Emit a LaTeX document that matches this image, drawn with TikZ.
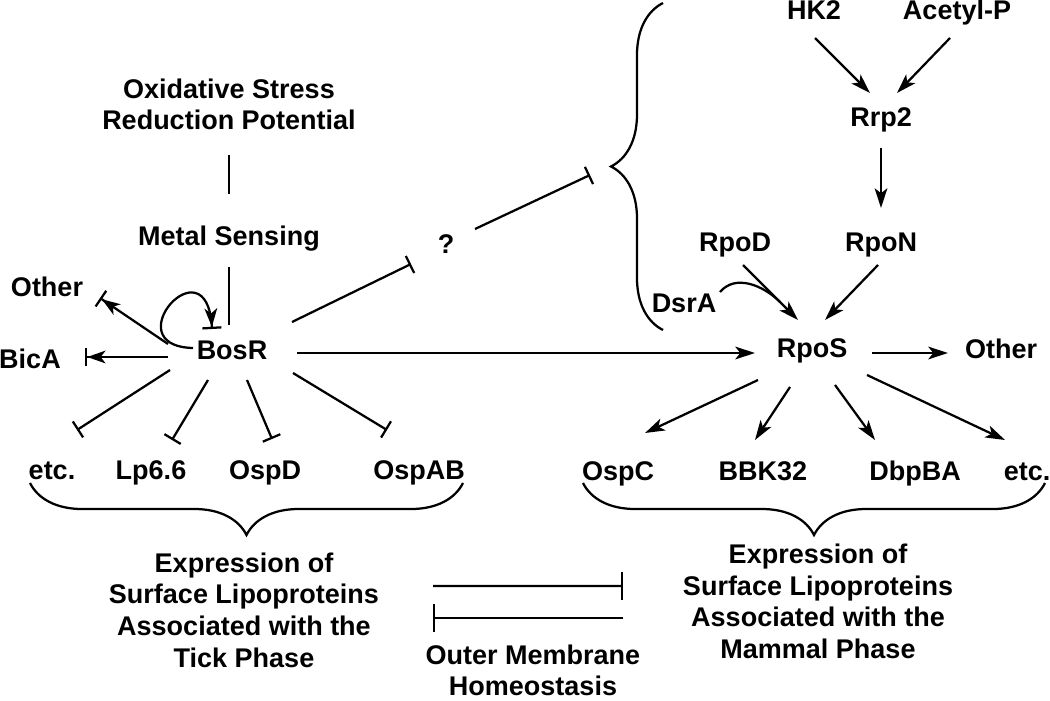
\documentclass[tikz,border=0pt]{standalone}
\usepackage{fontspec}
\setmainfont{Liberation Sans}
\usetikzlibrary{arrows.meta,calc,decorations.pathreplacing}
\tikzset{gene/.style={font=\bfseries\fontsize{19.2}{22.5}\selectfont,inner sep=0pt,anchor=base},
  block/.style={font=\bfseries\fontsize{19.2}{22.5}\selectfont,align=center,inner sep=0pt},
  act/.style={-{Stealth[length=14pt,width=9pt,inset=3.5pt]}},
  inh/.style={-{Bar[width=13.5pt]}},
  inhbig/.style={-{Bar[width=20pt]}},
  actinh/.style={-{Stealth[length=13pt,width=9pt,inset=3.5pt,sep=0pt]Bar[width=13.5pt]}},
  curly/.style={decorate,decoration={brace,amplitude=1.3cm}},
  curlyd/.style={decorate,decoration={brace,mirror,amplitude=1.3cm}}}

\begin{document}
\begin{tikzpicture}[x=0.025cm,y=0.025cm,line width=1.6pt]
\useasboundingbox (0,0) rectangle (1050,700);
% BosR side
\node[block] (oxid) at (229,595.5) {Oxidative Stress\\Reduction Potential};
\node[gene] (metal) at (229,455) {Metal Sensing};
\node[gene] (bosr) at (232,341) {BosR};
\node[gene] (bica) at (30,332) {BicA};
\node[gene] (otherl) at (47,404) {Other};
\node[gene] (etcl) at (52,221) {etc.};
\node[gene] (lp) at (151,221) {Lp6.6};
\node[gene] (ospd) at (265,221) {OspD};
\node[gene] (ospab) at (419,221) {OspAB};
\node[block] (lexpr) at (244,90) {Expression of\\Surface Lipoproteins\\Associated with the\\Tick Phase};
\node[block] (outer) at (533,29.5) {Outer Membrane\\Homeostasis};
\node[gene] (q) at (446,447) {?};
% RpoS side
\node[gene] (hk2) at (814,680) {HK2};
\node[gene] (acetyl) at (957,680) {Acetyl-P};
\node[gene] (rrp2) at (881,573) {Rrp2};
\node[gene] (rpon) at (881,449) {RpoN};
\node[gene] (rpod) at (735,449) {RpoD};
\node[gene] (dsra) at (684,388) {DsrA};
\node[gene] (rpos) at (812,343) {RpoS};
\node[gene] (otherr) at (1001,342) {Other};
\node[gene] (ospc) at (618,220) {OspC};
\node[gene] (bbk) at (763,220) {BBK32};
\node[gene] (dbpba) at (915,220) {DbpBA};
\node[gene] (etcr) at (1027,220) {etc.};
\node[block] (rexpr) at (818,98.5) {Expression of\\Surface Lipoproteins\\Associated with the\\Mammal Phase};

% braces
\draw[curly] (663,370) -- (663,697);
\coordinate (qtip) at (610,533);
\draw[curlyd] (30,217) -- (463,217);
\draw[curlyd] (583,217) -- (1045,217);

% BosR links
\draw ($(oxid.center)+(0,-50.5)$) -- ($(metal.base)+(0,51)$);
\draw ($(metal.base)+(0,-22)$) -- ($(bosr.base)+(-3,34)$);
\draw[actinh] ($(bosr.base)+(-39,11)$) .. controls +(-80,2) and +(-5,90) .. ($(bosr.base)+(-20,30)$);
\draw[actinh] ($(bosr.base)+(-64,15)$) -- ($(otherl.base)+(53,-2)$);
\draw[actinh] ($(bosr.base)+(-64,2)$) -- ($(bica.base)+(55,11)$);
\draw[inh] ($(bosr.base)+(60,37)$) -- ($(q.base)+(-35,-11)$);
\draw[inh] ($(q.base)+(29,24)$) -- ($(qtip)+(-20,-8)$);
\draw[act] ($(bosr.base)+(65,6)$) -- ($(rpos.base)+(-57,4)$);
\draw[inh] ($(bosr.base)+(-62,-11)$) -- ($(etcl.base)+(25,49)$);
\draw[inh] ($(bosr.base)+(-24,-21)$) -- ($(lp.base)+(21,39)$);
\draw[inh] ($(bosr.base)+(15,-21)$) -- ($(ospd.base)+(7,40)$);
\draw[inh] ($(bosr.base)+(61,-14)$) -- ($(ospab.base)+(-32,49)$);

% RpoS links
\draw[act] ($(hk2.base)+(1,-18)$) -- ($(rrp2.base)+(-11,34)$);
\draw[act] ($(acetyl.base)+(-7,-18)$) -- ($(rrp2.base)+(16,34)$);
\draw[act] ($(rrp2.base)+(0,-21)$) -- ($(rpon.base)+(0,43)$);
\draw[act] ($(rpod.base)+(8,-14)$) -- ($(rpos.base)+(-14,37)$);
\draw[act] ($(rpon.base)+(-3,-14)$) -- ($(rpos.base)+(13,37)$);
\draw ($(dsra.base)+(36,20)$) to[out=50,in=135] ($(rpos.base)+(-32,55)$);
\draw[act] ($(rpos.base)+(60,4)$) -- ($(otherr.base)+(-53,5)$);
\draw[act] ($(rpos.base)+(-54,-23)$) -- ($(ospc.base)+(27,47)$);
\draw[act] ($(rpos.base)+(-22,-30)$) -- ($(bbk.base)+(-8,40)$);
\draw[act] ($(rpos.base)+(23,-28)$) -- ($(dbpba.base)+(-40,40)$);
\draw[act] ($(rpos.base)+(55,-18)$) -- ($(etcr.base)+(-22,40)$);

% outer membrane
\draw[inhbig] ($(lexpr.center)+(189,24)$) -- ($(rexpr.center)+(-195,15.5)$);
\draw[inhbig] ($(rexpr.center)+(-195,-16.5)$) -- ($(lexpr.center)+(189,-8)$);
\end{tikzpicture}
\end{document}
